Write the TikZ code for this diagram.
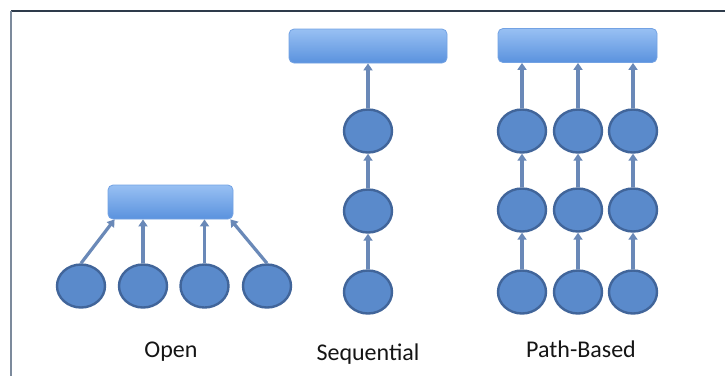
\documentclass[tikz,border=0pt]{standalone}
\usepackage{fontspec}
\setmainfont{Carlito}
\usetikzlibrary{shapes.geometric,arrows.meta}
\definecolor{cfill}{HTML}{5A8ACB}
\definecolor{cline}{HTML}{41659A}
\definecolor{acol}{HTML}{6A89B8}
\definecolor{rtop}{HTML}{98C0F3}
\definecolor{rbot}{HTML}{5A92DE}
\definecolor{frametop}{HTML}{2E3B4B}
\definecolor{frameleft}{HTML}{7C8A9C}
\definecolor{txt}{HTML}{151515}
\tikzset{
  blob/.style={ellipse,draw=cline,fill=cfill,line width=2.4pt,minimum width=48pt,minimum height=43pt,inner sep=0pt},
  bar/.style={rectangle,rounded corners=5pt,draw=rbot!85!white,line width=0.8pt,top color=rtop,bottom color=rbot,inner sep=0pt,minimum height=34pt},
  conn/.style={draw=acol,line width=3.2pt,-{Triangle[length=7pt,width=9pt]}},
  lab/.style={font=\fontsize{24}{28}\selectfont,text=txt,anchor=base,inner sep=0pt}
}
\begin{document}
\begin{tikzpicture}[x=1pt,y=-1pt]
\useasboundingbox (0,0) rectangle (725,376);
\fill[white] (0,0) rectangle (725,376);
% frame
\draw[frametop,line width=1.5pt] (11,11) -- (725,11);
\draw[frameleft,line width=1.5pt] (11,11) -- (11,376);

% Open
\node[bar,minimum width=125pt] (orect) at (170.5,202) {};
\node[blob] (o1) at (81,286) {};
\node[blob] (o2) at (143,286) {};
\node[blob] (o3) at (204.5,286) {};
\node[blob] (o4) at (267,286) {};
\draw[conn] (o1.north) -- ([xshift=7pt]orect.south west);
\draw[conn] (o2.north) -- (o2.north |- orect.south);
\draw[conn] (o3.north) -- (o3.north |- orect.south);
\draw[conn] (o4.north) -- ([xshift=-3pt]orect.south east);

% Sequential
\node[bar,minimum width=158pt] (srect) at (368,46) {};
\node[blob] (s1) at (368,131) {};
\node[blob] (s2) at (368,211) {};
\node[blob] (s3) at (368,292) {};
\draw[conn] (s3) -- (s2);
\draw[conn] (s2) -- (s1);
\draw[conn] (s1) -- (srect);

% Path-Based
\node[bar,minimum width=159pt] (prect) at (577.5,45.5) {};
\foreach \c/\x in {1/522,2/578,3/633}{
  \node[blob] (pa\c) at (\x,131) {};
  \node[blob] (pb\c) at (\x,210) {};
  \node[blob] (pc\c) at (\x,292) {};
  \draw[conn] (pc\c) -- (pb\c);
  \draw[conn] (pb\c) -- (pa\c);
  \draw[conn] (pa\c.north) -- (pa\c.north |- prect.south);
}

% labels
\node[lab] (lopen) at (171,357) {Open};
\node[lab] (lseq) at (368,360) {Sequential};
\node[lab] (lpath) at (581,357) {Path-Based};
\end{tikzpicture}
\end{document}
